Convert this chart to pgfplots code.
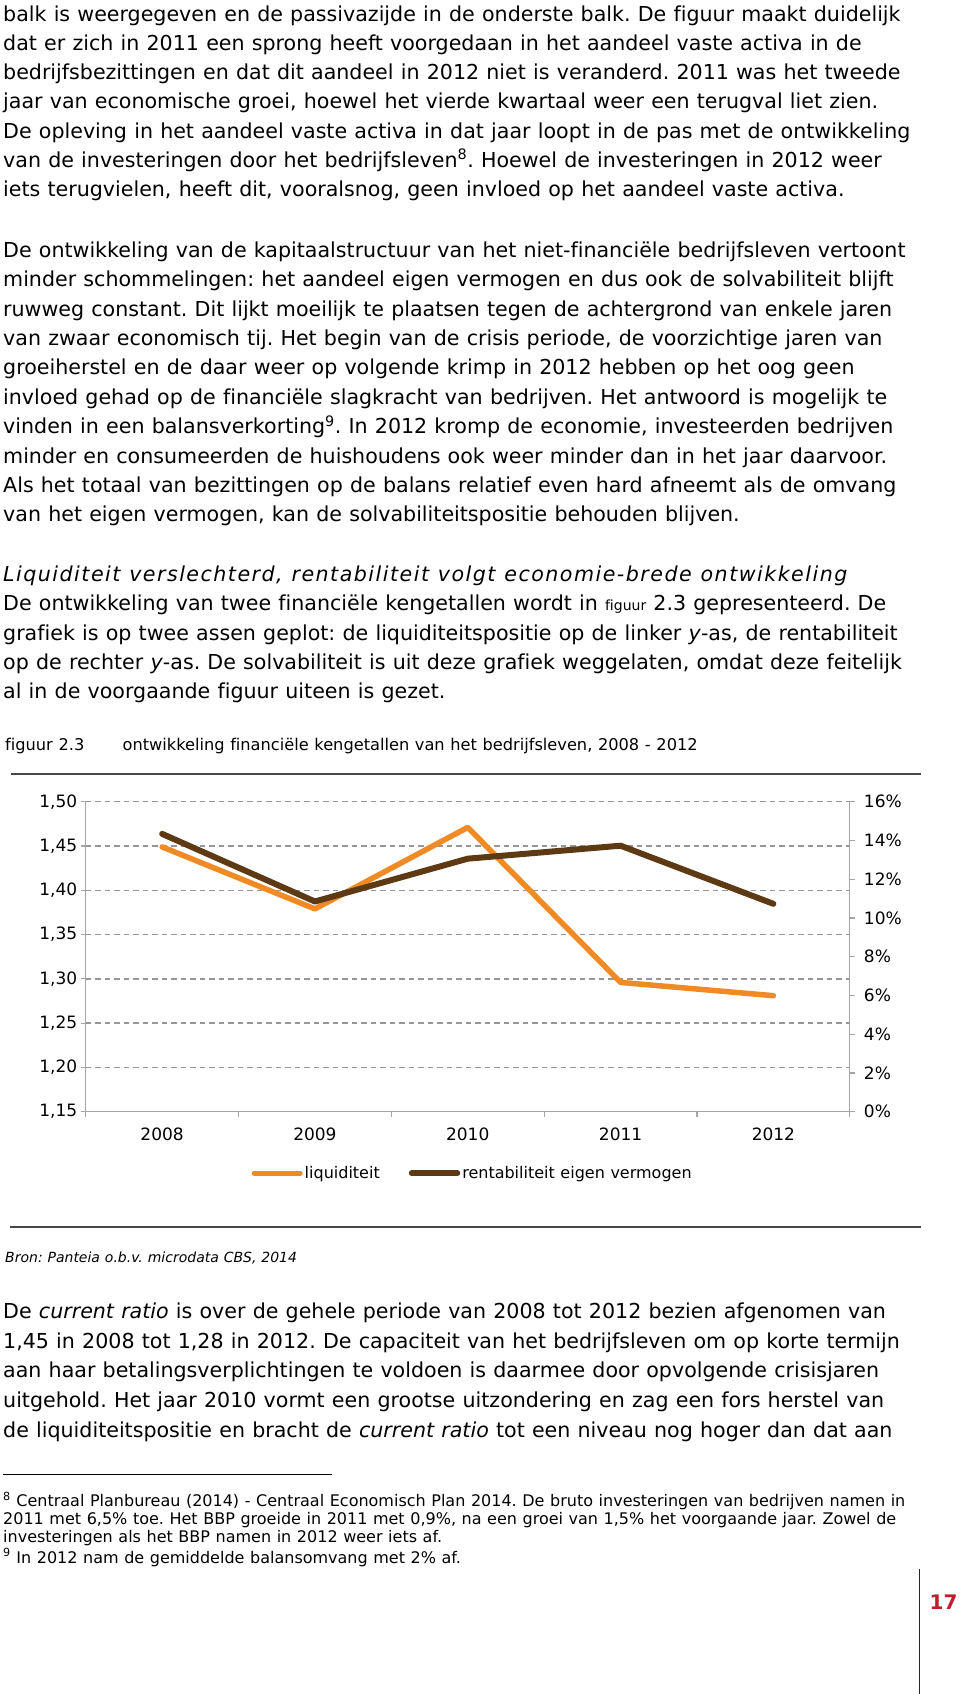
\documentclass[border=0pt]{standalone}
\usepackage{fontspec}
\setmainfont{DejaVu Sans}[WordSpace=1.1,Ligatures=NoCommon]
\newfontfamily\headfont{DejaVu Sans}[LetterSpace=7.2,WordSpace=1.1,Ligatures=NoCommon]
\usepackage{pgfplots}
\pgfplotsset{compat=1.18}
\definecolor{orangeL}{RGB}{240,138,36}
\definecolor{brownR}{RGB}{94,58,20}
\definecolor{pagered}{RGB}{190,30,45}
\definecolor{axgray}{RGB}{165,165,165}
\definecolor{gridgray}{RGB}{150,150,150}
\newcommand{\bodyfont}{\frenchspacing\fontsize{20.6}{29}\selectfont}
\newcommand{\chartfont}{\fontsize{16}{19}\selectfont}
\newcommand{\tickfont}{\fontsize{17}{20}\selectfont}
\newcommand{\smallfont}{\frenchspacing\fontsize{16.2}{20}\selectfont}
\newcommand{\T}[3]{\node[anchor=mid west,inner sep=0pt,font=\bodyfont] at (#1pt,-#2pt) {#3};}
\newcommand{\F}[3]{\node[anchor=mid west,inner sep=0pt,font=\smallfont] at (#1pt,-#2pt) {#3};}
\begin{document}
\frenchspacing
\begin{tikzpicture}
\fill[white] (0pt,0pt) rectangle (960pt,-1694pt);
\path[use as bounding box] (0pt,0pt) rectangle (960pt,-1694pt);
% paragraph 1
\T{3}{18.3}{balk is weergegeven en de passivazijde in de onderste balk. De figuur maakt duidelijk}
\T{3}{47.5}{dat er zich in 2011 een sprong heeft voorgedaan in het aandeel vaste activa in de}
\T{3}{76.7}{bedrijfsbezittingen en dat dit aandeel in 2012 niet is veranderd. 2011 was het tweede}
\T{3}{106}{jaar van economische groei, hoewel het vierde kwartaal weer een terugval liet zien.}
\T{3}{135.3}{De opleving in het aandeel vaste activa in dat jaar loopt in de pas met de ontwikkeling}
\T{3}{164.6}{van de investeringen door het bedrijfsleven\textsuperscript{8}. Hoewel de investeringen in 2012 weer}
\T{3}{193.9}{iets terugvielen, heeft dit, vooralsnog, geen invloed op het aandeel vaste activa.}
% paragraph 2
\T{3}{254.5}{De ontwikkeling van de kapitaalstructuur van het niet-financiële bedrijfsleven vertoont}
\T{3}{283.9}{minder schommelingen: het aandeel eigen vermogen en dus ook de solvabiliteit blijft}
\T{3}{313.3}{ruwweg constant. Dit lijkt moeilijk te plaatsen tegen de achtergrond van enkele jaren}
\T{3}{342.7}{van zwaar economisch tij. Het begin van de crisis periode, de voorzichtige jaren van}
\T{3}{372.1}{groeiherstel en de daar weer op volgende krimp in 2012 hebben op het oog geen}
\T{3}{401.5}{invloed gehad op de financiële slagkracht van bedrijven. Het antwoord is mogelijk te}
\T{3}{430.9}{vinden in een balansverkorting\textsuperscript{9}. In 2012 kromp de economie, investeerden bedrijven}
\T{3}{460.3}{minder en consumeerden de huishoudens ook weer minder dan in het jaar daarvoor.}
\T{3}{489.7}{Als het totaal van bezittingen op de balans relatief even hard afneemt als de omvang}
\T{3}{519.1}{van het eigen vermogen, kan de solvabiliteitspositie behouden blijven.}
% heading + paragraph
\T{3}{578.5}{{\headfont\itshape Liquiditeit verslechterd, rentabiliteit volgt economie-brede ontwikkeling}}
\T{3}{607.9}{De ontwikkeling van twee financiële kengetallen wordt in {\fontsize{14}{14}\selectfont figuur} 2.3 gepresenteerd. De}
\T{3}{637.3}{grafiek is op twee assen geplot: de liquiditeitspositie op de linker \textit{y}-as, de rentabiliteit}
\T{3}{666.7}{op de rechter \textit{y}-as. De solvabiliteit is uit deze grafiek weggelaten, omdat deze feitelijk}
\T{3}{696.1}{al in de voorgaande figuur uiteen is gezet.}
% caption
\F{5}{747.5}{figuur 2.3}
\F{122.4}{747.5}{ontwikkeling financiële kengetallen van het bedrijfsleven, 2008 - 2012}
\draw[line width=2pt, black!72] (11pt,-774.3pt) -- (921.4pt,-774.3pt);
\draw[line width=2pt, black!72] (10pt,-1226.7pt) -- (921.4pt,-1226.7pt);
% chart
\begin{axis}[
  at={(85.7pt,-1111.7pt)}, anchor=south west,
  scale only axis, width=764.1pt, height=310pt,
  xmin=-0.5, xmax=4.5, ymin=1.15, ymax=1.5,
  clip=false,
  axis x line*=bottom, axis y line*=left,
  axis line style={draw=axgray, line width=1.3pt},
  xtick={-0.5,0.5,1.5,2.5,3.5,4.5},
  xticklabels={,,,,,},
  extra x ticks={0,1,2,3,4},
  extra x tick labels={2008,2009,2010,2011,2012},
  extra x tick style={major tick length=0pt},
  ytick={1.15,1.2,1.25,1.3,1.35,1.4,1.45,1.5},
  major tick length=5pt, tick align=outside,
  tick style={draw=axgray, line width=1.2pt},
  ymajorgrids,
  grid style={gridgray, line width=1.3pt, dash pattern=on 5.5pt off 4pt},
  ticklabel style={font=\tickfont},
  xticklabel style={yshift=-12.5pt},
  yticklabel style={xshift=0pt, /pgf/number format/.cd, fixed, fixed zerofill, precision=2, use comma, assume math mode=true},
]
\addplot[orangeL, line width=5.5pt, line cap=round, line join=round] coordinates {
(0,1.449) (1,1.379) (2,1.471) (3,1.296) (4,1.281)};
\end{axis}
\begin{axis}[
  at={(85.7pt,-1111.7pt)}, anchor=south west,
  scale only axis, width=764.1pt, height=310pt,
  xmin=-0.5, xmax=4.5, ymin=0, ymax=16,
  clip=false,
  axis x line=none, axis y line*=right,
  axis line style={draw=axgray, line width=1.3pt},
  ytick={0,2,4,6,8,10,12,14,16},
  yticklabel={\pgfmathprintnumber{\tick}\%},
  major tick length=5pt, tick align=outside,
  tick style={draw=axgray, line width=1.2pt},
  ticklabel style={font=\tickfont},
  yticklabel style={xshift=5.6pt, /pgf/number format/assume math mode=true},
  legend style={at={(0.2170,-0.1987)}, anchor=west, draw=none, fill=none, inner sep=0pt,
    font=\chartfont, legend columns=2,
    /tikz/every even column/.append style={column sep=27pt}},
  legend image code/.code={\draw[#1] (0pt,0pt) -- (45.5pt,0pt);},
]
\addlegendimage{orangeL, line width=5.5pt, line cap=round}
\addlegendentry{liquiditeit}
\addplot[brownR, line width=6pt, line cap=round, line join=round] coordinates {
(0,14.34) (1,10.85) (2,13.06) (3,13.73) (4,10.73)};
\addlegendentry{rentabiliteit eigen vermogen}
\end{axis}
% source
\node[anchor=mid west,inner sep=0pt,font=\frenchspacing\fontsize{14}{17}\selectfont] at (5pt,-1260pt) {\textit{Bron: Panteia o.b.v. microdata CBS, 2014}};
% paragraph 3
\T{3}{1316}{De \textit{current ratio} is over de gehele periode van 2008 tot 2012 bezien afgenomen van}
\T{3}{1345.6}{1,45 in 2008 tot 1,28 in 2012. De capaciteit van het bedrijfsleven om op korte termijn}
\T{3}{1375.2}{aan haar betalingsverplichtingen te voldoen is daarmee door opvolgende crisisjaren}
\T{3}{1404.8}{uitgehold. Het jaar 2010 vormt een grootse uitzondering en zag een fors herstel van}
\T{3}{1434.4}{de liquiditeitspositie en bracht de \textit{current ratio} tot een niveau nog hoger dan dat aan}
% footnotes
\draw[line width=1pt] (3pt,-1474pt) -- (332pt,-1474pt);
\node[anchor=mid west,inner sep=0pt,font=\frenchspacing\fontsize{16}{20}\selectfont] at (3pt,-1504pt) {\textsuperscript{8} Centraal Planbureau (2014) - Centraal Economisch Plan 2014. De bruto investeringen van bedrijven namen in};
\node[anchor=mid west,inner sep=0pt,font=\frenchspacing\fontsize{16}{20}\selectfont] at (3pt,-1522pt) {2011 met 6,5\% toe. Het BBP groeide in 2011 met 0,9\%, na een groei van 1,5\% het voorgaande jaar. Zowel de};
\node[anchor=mid west,inner sep=0pt,font=\frenchspacing\fontsize{16}{20}\selectfont] at (3pt,-1539.5pt) {investeringen als het BBP namen in 2012 weer iets af.};
\node[anchor=mid west,inner sep=0pt,font=\frenchspacing\fontsize{16}{20}\selectfont] at (3pt,-1560.5pt) {\textsuperscript{9} In 2012 nam de gemiddelde balansomvang met 2\% af.};
% page number
\draw[line width=1.3pt, black!85] (919.5pt,-1569pt) -- (919.5pt,-1694pt);
\node[anchor=mid west, inner sep=0pt, font=\fontsize{20}{20}\selectfont\bfseries, text=pagered] at (929.5pt,-1607pt) {17};
\end{tikzpicture}
\end{document}
